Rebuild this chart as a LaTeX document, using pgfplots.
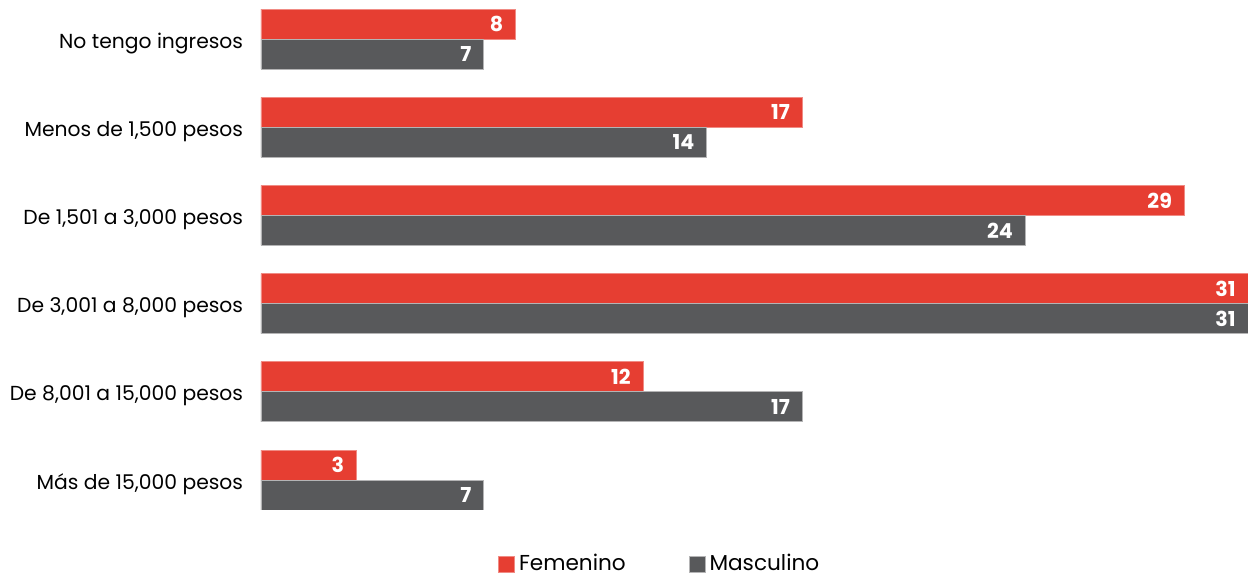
\documentclass[border=0pt]{standalone}
\usepackage{fontspec}
\setmainfont{Poppins}
\usepackage{pgfplots}
\pgfplotsset{compat=1.18}
\definecolor{fem}{HTML}{E63E32}
\definecolor{mas}{HTML}{58595B}

\begin{document}
\begin{tikzpicture}
    \begin{axis}[
            xbar,
            scale only axis,
            width=493.5pt,
            height=250pt,
            xmin=0, xmax=31,
            ymin=-0.34, ymax=5.33,
            axis line style={draw=none},
            major tick style={draw=none},
            xtick=\empty,
            ytick={0,...,5},
            yticklabels={
                {Más de 15,000 pesos},
                {De 8,001 a 15,000 pesos},
                {De 3,001 a 8,000 pesos},
                {De 1,501 a 3,000 pesos},
                {Menos de 1,500 pesos},
                {No tengo ingresos}},
            yticklabel style={font=\fontsize{10.15pt}{11pt}\selectfont, anchor=east,
                inner sep=0pt, xshift=-4.5pt, yshift=-2pt},
            bar width=15pt,
            nodes near coords,
            nodes near coords style={anchor=east, text=white, inner sep=0pt,
                xshift=-6pt, font=\fontsize{10.3pt}{11pt}\selectfont\bfseries},
            /pgf/number format/assume math mode=true,
            legend style={draw=none, at={(rel axis cs:0.405,-0.108)}, anchor=center,
                font=\fontsize{10.8pt}{12pt}\selectfont, inner sep=0pt},
            legend columns=2,
            legend image code/.code={\fill[#1] (0pt,-4pt) rectangle (8pt,4pt);},
            /tikz/every even column/.append style={column sep=29.5pt},
            ]
        \addplot[fill=fem, draw=fem!60!white, line width=0.4pt, bar shift=7.5pt] coordinates {
            (3,0) (12,1) (31,2) (29,3) (17,4) (8,5)};
        \addplot[fill=mas, draw=mas!45!white, line width=0.4pt, bar shift=-7.5pt] coordinates {
            (7,0) (17,1) (31,2) (24,3) (14,4) (7,5)};
        \legend{Femenino, Masculino}
        \coordinate (bl) at (rel axis cs:0,0);
        \coordinate (tr) at (rel axis cs:1,1);
    \end{axis}
    \pgfresetboundingbox
    \useasboundingbox ([shift={(-130.5pt,-33.5pt)}]bl) rectangle ([shift={(0pt,5pt)}]tr);
\end{tikzpicture}
\end{document}
